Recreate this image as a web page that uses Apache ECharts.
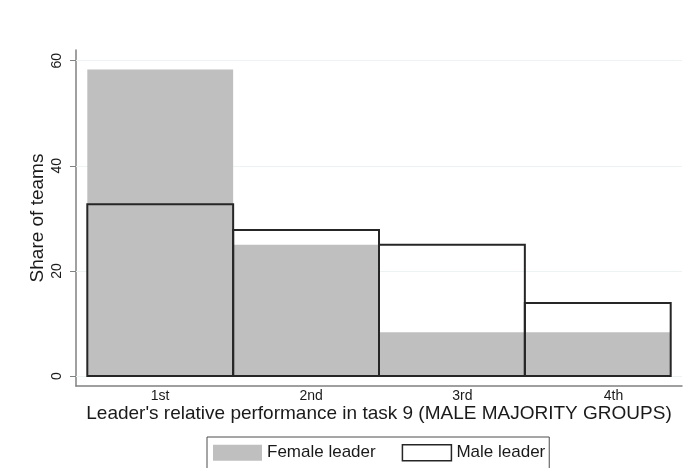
<!DOCTYPE html>
<html>
<head>
<meta charset="utf-8">
<script src="https://cdn.jsdelivr.net/npm/echarts@6/dist/echarts.min.js"></script>
<style>
html,body{margin:0;padding:0;background:#fff;}
#chart{width:689px;height:468px;}
</style>
</head>
<body>
<div id="chart"></div>
<script>
const categories = ['1st', '2nd', '3rd', '4th'];
const femaleShare = [58.33, 25.0, 8.33, 8.33];
const maleShare = [32.7, 27.8, 25.0, 13.9];
const yTicks = [0, 20, 40, 60];
const seriesNames = ['Female leader', 'Male leader'];
const xTitle = "Leader's relative performance in task 9 (MALE MAJORITY GROUPS)";
const yTitle = 'Share of teams';

const FONT = "'Liberation Sans', Arial, sans-serif";
const chart = echarts.init(document.getElementById('chart'), null, {renderer: 'canvas'});

function makeRender(styleOverride) {
  return function (params, api) {
    const i = api.value(0), v = api.value(1);
    const p0 = api.coord([i, v]);
    const p1 = api.coord([i + 1, 0]);
    return {
      type: 'rect',
      shape: {x: p0[0], y: p0[1], width: p1[0] - p0[0], height: p1[1] - p0[1]},
      style: api.style(styleOverride)
    };
  };
}

const option = {
  backgroundColor: '#fff',
  animation: false,
  textStyle: {fontFamily: FONT},
  grid: [
    {left: 76, right: 7, top: 50, bottom: 82, containLabel: false},
    {left: 84.5, width: 612, top: 50, bottom: 82, containLabel: false}
  ],
  xAxis: [
    {
      type: 'value', gridIndex: 0, min: -0.0775, max: 4.0775,
      axisLine: {show: true, onZero: false, lineStyle: {color: '#808080', width: 1.5}},
      axisTick: {show: false}, axisLabel: {show: false}, splitLine: {show: false},
      name: xTitle, nameLocation: 'middle', nameGap: 18, nameMoveOverlap: false,
      nameTextStyle: {fontFamily: FONT, fontSize: 19, color: '#1a1a1a'}
    },
    {
      type: 'category', gridIndex: 1, data: categories, boundaryGap: true,
      axisLine: {show: false}, axisTick: {show: false},
      axisLabel: {show: true, margin: 3, fontFamily: FONT, fontSize: 14, color: '#1a1a1a'},
      splitLine: {show: false}
    }
  ],
  yAxis: [
    {
      type: 'value', gridIndex: 0, min: -1.903, max: 62.04,
      axisLine: {show: true, onZero: false, lineStyle: {color: '#808080', width: 1.5}},
      axisTick: {show: true, length: 6, customValues: yTicks, lineStyle: {color: '#808080', width: 1}},
      axisLabel: {show: true, customValues: yTicks, rotate: 90, margin: 12,
        fontFamily: FONT, fontSize: 14, color: '#1a1a1a'},
      splitLine: {show: false},
      name: yTitle, nameLocation: 'middle', nameGap: 29, nameRotate: 90, nameMoveOverlap: false,
      nameTextStyle: {fontFamily: FONT, fontSize: 19, color: '#1a1a1a'}
    },
    {type: 'value', gridIndex: 1, show: false, min: 0, max: 1}
  ],
  legend: {
    left: 207, top: 437,
    padding: [7, 4, 20, 6],
    borderColor: '#4d4d4d', borderWidth: 1,
    icon: 'rect', itemWidth: 49, itemHeight: 16, itemGap: 26,
    textStyle: {fontFamily: FONT, fontSize: 17, color: '#1a1a1a'},
    selectedMode: false,
    data: [
      {name: seriesNames[0], itemStyle: {color: '#bfbfbf', borderWidth: 0}},
      {name: seriesNames[1], itemStyle: {color: '#ffffff', borderColor: '#262626', borderWidth: 1.5}}
    ]
  },
  series: [
    {
      type: 'line', xAxisIndex: 0, yAxisIndex: 0, data: [], z: 1, silent: true,
      markLine: {
        silent: true, z: 1, symbol: ['none', 'none'], label: {show: false},
        lineStyle: {color: '#edf2f2', width: 1.2, type: 'solid'},
        data: yTicks.map(v => ({yAxis: v}))
      }
    },
    {
      name: seriesNames[0], type: 'custom', xAxisIndex: 0, yAxisIndex: 0, z: 2,
      itemStyle: {color: '#bfbfbf'},
      renderItem: makeRender({fill: '#bfbfbf', stroke: null, lineWidth: 0}),
      data: femaleShare.map((v, i) => [i, v])
    },
    {
      name: seriesNames[1], type: 'custom', xAxisIndex: 0, yAxisIndex: 0, z: 3,
      itemStyle: {color: '#ffffff', borderColor: '#262626', borderWidth: 2},
      renderItem: makeRender({fill: null, stroke: '#262626', lineWidth: 2}),
      data: maleShare.map((v, i) => [i, v])
    }
  ]
};
chart.setOption(option);
</script>
</body>
</html>
